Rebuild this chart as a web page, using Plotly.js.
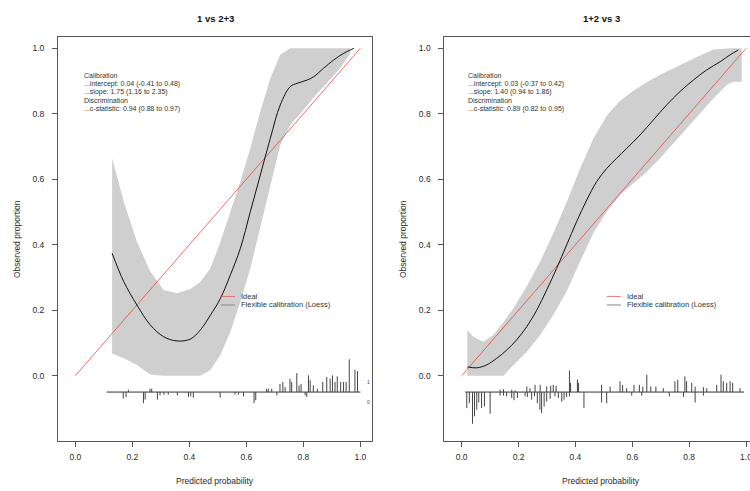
<!DOCTYPE html>
<html>
<head>
<meta charset="utf-8">
<script src="https://cdn.plot.ly/plotly-3.0.1.min.js"></script>
<style>html,body{margin:0;padding:0;background:#fff;}#chart{width:750px;height:491px;}</style>
</head>
<body>
<div id="chart"></div>
<script>
// ---------- DATA ----------
const panelTitles = ["1 vs 2+3", "1+2 vs 3"];
const xAxisTitle = "Predicted probability";
const yAxisTitle = "Observed proportion";
const tickVals = [0, 0.2, 0.4, 0.6, 0.8, 1.0];
const tickText = ["0.0", "0.2", "0.4", "0.6", "0.8", "1.0"];
const legendLabels = ["Ideal", "Flexible calibration (Loess)"];

const idealX = [0, 1];
const idealY = [0, 1];

// Left panel (1 vs 2+3)
const leftStats = ["Calibration", "...intercept: 0.04 (-0.41 to 0.48)", "...slope: 1.75 (1.16 to 2.35)", "Discrimination", "...c-statistic: 0.94 (0.88 to 0.97)"];
const leftCurveX = [0.129,0.17,0.216,0.263,0.31,0.357,0.404,0.439,0.474,0.509,0.544,0.579,0.614,0.649,0.684,0.719,0.754,0.778,0.813,0.836,0.871,0.906,0.942,0.965,0.977];
const leftCurveY = [0.374,0.287,0.216,0.155,0.119,0.106,0.112,0.14,0.185,0.236,0.308,0.389,0.501,0.613,0.725,0.827,0.883,0.893,0.903,0.913,0.939,0.964,0.985,0.995,1.0];
const leftBandX = [0.129,0.17,0.216,0.263,0.31,0.357,0.404,0.439,0.474,0.509,0.544,0.579,0.614,0.649,0.684,0.719,0.754,0.789,0.836,0.883,0.93,0.965];
const leftBandUpper = [0.664,0.532,0.409,0.318,0.262,0.252,0.265,0.287,0.328,0.409,0.501,0.593,0.695,0.807,0.908,0.98,1.0,1.0,1.0,1.0,1.0,1.0];
const leftBandLower = [0.068,0.053,0.033,0.004,0,0,0,0,0.017,0.063,0.134,0.226,0.328,0.45,0.582,0.705,0.766,0.80,0.85,0.895,0.94,0.985];
const leftRange = [0.11, 1.0];
const leftSpikeX1 = [0.186,0.262,0.268,0.671,0.677,0.689,0.718,0.728,0.736,0.753,0.759,0.777,0.785,0.792,0.818,0.824,0.835,0.849,0.868,0.882,0.894,0.902,0.911,0.919,0.931,0.941,0.95,0.961,0.981,0.99];
const leftSpikeH1 = [0.007,0.010,0.010,0.010,0.010,0.010,0.025,0.031,0.015,0.041,0.031,0.058,0.020,0.025,0.051,0.036,0.020,0.010,0.031,0.046,0.041,0.051,0.031,0.048,0.031,0.031,0.031,0.100,0.068,0.064];
const leftSpikeX0 = [0.168,0.178,0.239,0.245,0.288,0.297,0.311,0.326,0.358,0.397,0.405,0.414,0.508,0.56,0.572,0.59,0.627,0.633,0.707,0.806,0.812];
const leftSpikeH0 = [0.020,0.015,0.034,0.023,0.023,0.010,0.008,0.008,0.010,0.015,0.013,0.017,0.017,0.008,0.008,0.013,0.034,0.025,0.010,0.010,0.015];

// Right panel (1+2 vs 3)
const rightStats = ["Calibration", "...intercept: 0.03 (-0.37 to 0.42)", "...slope: 1.40 (0.94 to 1.86)", "Discrimination", "...c-statistic: 0.89 (0.82 to 0.95)"];
const rightCurveX = [0.02,0.053,0.088,0.123,0.158,0.193,0.229,0.264,0.299,0.334,0.369,0.404,0.44,0.475,0.51,0.545,0.58,0.627,0.674,0.721,0.768,0.815,0.862,0.909,0.944,0.973];
const rightCurveY = [0.027,0.024,0.033,0.053,0.078,0.109,0.15,0.2,0.262,0.328,0.399,0.47,0.537,0.593,0.633,0.664,0.694,0.735,0.781,0.827,0.868,0.903,0.934,0.959,0.98,0.995];
const rightBandX = [0.02,0.041,0.076,0.111,0.147,0.182,0.229,0.276,0.322,0.369,0.416,0.463,0.51,0.557,0.604,0.651,0.698,0.744,0.791,0.838,0.885,0.932,0.955,0.985];
const rightBandUpper = [0.14,0.119,0.104,0.124,0.163,0.206,0.273,0.349,0.434,0.53,0.632,0.724,0.794,0.84,0.87,0.896,0.919,0.939,0.959,0.978,0.996,1.0,1.0,1.0];
const rightBandLower = [0,0,0,0,0,0.033,0.073,0.124,0.185,0.257,0.348,0.435,0.501,0.552,0.588,0.623,0.664,0.71,0.756,0.801,0.847,0.888,0.898,0.898];
const rightRange = [0.012, 0.993];
const rightSpikeX1 = [0.135,0.147,0.176,0.188,0.229,0.24,0.258,0.276,0.299,0.313,0.322,0.332,0.379,0.383,0.407,0.411,0.492,0.522,0.557,0.566,0.58,0.606,0.625,0.637,0.651,0.665,0.683,0.709,0.75,0.76,0.785,0.791,0.809,0.821,0.85,0.862,0.897,0.912,0.92,0.932,0.944,0.953,0.979];
const rightSpikeH1 = [0.007,0.009,0.007,0.005,0.017,0.012,0.022,0.022,0.017,0.019,0.022,0.019,0.066,0.028,0.038,0.028,0.022,0.017,0.033,0.022,0.012,0.022,0.022,0.017,0.053,0.017,0.017,0.012,0.033,0.038,0.048,0.033,0.028,0.017,0.015,0.012,0.022,0.053,0.033,0.028,0.033,0.028,0.012];
const rightSpikeX0 = [0.018,0.027,0.038,0.045,0.053,0.06,0.07,0.08,0.1,0.135,0.147,0.158,0.176,0.184,0.196,0.223,0.231,0.246,0.256,0.266,0.275,0.281,0.29,0.299,0.311,0.328,0.34,0.352,0.36,0.369,0.379,0.43,0.492,0.51,0.598,0.633,0.73,0.78,0.821,0.85];
const rightSpikeH0 = [0.049,0.034,0.097,0.074,0.054,0.032,0.049,0.044,0.066,0.011,0.011,0.013,0.018,0.025,0.018,0.013,0.015,0.023,0.013,0.034,0.054,0.064,0.044,0.029,0.021,0.013,0.018,0.029,0.023,0.015,0.013,0.049,0.032,0.034,0.011,0.011,0.013,0.015,0.032,0.011];

const spikeBase = -0.05;
const groupLabels = ["1", "0"];

// ---------- BUILD ----------
const FONT = "Liberation Sans, Arial, Helvetica, sans-serif";
const TXT = "#2a2a2a";

function spikes(xs, hs, dir) {
  const X = [], Y = [];
  xs.forEach((x, i) => { X.push(x, x, null); Y.push(spikeBase, spikeBase + dir * hs[i], null); });
  return {X, Y};
}

function panel(sfx, curveX, curveY, bandX, up, lo, range, x1, h1, x0, h0) {
  const xa = sfx === "" ? "x" : "x" + sfx, ya = sfx === "" ? "y" : "y" + sfx;
  const polyX = bandX.concat(bandX.slice().reverse());
  const polyY = up.concat(lo.slice().reverse());
  const s1 = spikes(x1, h1, 1), s0 = spikes(x0, h0, -1);
  return [
    {type: "scatter", mode: "lines", x: polyX, y: polyY, fill: "toself", fillcolor: "#cfcfcf",
     line: {width: 0, color: "#cfcfcf"}, xaxis: xa, yaxis: ya, hoverinfo: "skip", showlegend: false},
    {type: "scatter", mode: "lines", x: idealX, y: idealY, line: {color: "rgba(235,60,60,0.75)", width: 1},
     xaxis: xa, yaxis: ya, showlegend: false, name: legendLabels[0]},
    {type: "scatter", mode: "lines", x: curveX, y: curveY, line: {color: "#111", width: 1, shape: "spline"},
     xaxis: xa, yaxis: ya, showlegend: false, name: legendLabels[1]},
    {type: "scatter", mode: "lines", x: range, y: [spikeBase, spikeBase], line: {color: "#333", width: 1},
     xaxis: xa, yaxis: ya, showlegend: false, hoverinfo: "skip"},
    {type: "scatter", mode: "lines", x: s1.X, y: s1.Y, line: {color: "#444", width: 1},
     xaxis: xa, yaxis: ya, showlegend: false, hoverinfo: "skip", connectgaps: false},
    {type: "scatter", mode: "lines", x: s0.X, y: s0.Y, line: {color: "#444", width: 1},
     xaxis: xa, yaxis: ya, showlegend: false, hoverinfo: "skip", connectgaps: false}
  ];
}

const data = [].concat(
  panel("", leftCurveX, leftCurveY, leftBandX, leftBandUpper, leftBandLower, leftRange, leftSpikeX1, leftSpikeH1, leftSpikeX0, leftSpikeH0),
  panel("2", rightCurveX, rightCurveY, rightBandX, rightBandUpper, rightBandLower, rightRange, rightSpikeX1, rightSpikeH1, rightSpikeX0, rightSpikeH0)
);

const W = 750, H = 491;
const yTop = 37, yBot = 441;
const yRange = [-0.1995, 1.0345];

function xaxis(domain, range) {
  return {domain, range, showgrid: false, zeroline: false, showline: true, mirror: true,
    linecolor: "#555", linewidth: 1, ticks: "outside", ticklen: 5, tickwidth: 1, tickcolor: "#555",
    tickvals: tickVals, ticktext: tickText, tickfont: {size: 8.5, color: TXT, family: FONT}, ticklabelstandoff: 3,
    ticklabeloverflow: "allow", fixedrange: true};
}
function yaxis(anchor, mirror) {
  return {domain: [1 - yBot / H, 1 - yTop / H], range: yRange, anchor, showgrid: false, zeroline: false,
    showline: true, mirror, linecolor: "#555", linewidth: 1, ticks: "outside", ticklen: 5, tickwidth: 1,
    tickcolor: "#555", tickvals: tickVals, ticktext: tickText, tickfont: {size: 8.5, color: TXT, family: FONT},
    ticklabelstandoff: 6, ticklabeloverflow: "allow", fixedrange: true};
}

const annotations = [];
const shapes = [];
function panelText(xref, yref, stats, sx, legX, panelCenterPx, yTitlePx, showGroup, title) {
  const lineY = [0.918, 0.892, 0.866, 0.840, 0.814];
  stats.forEach((t, i) => annotations.push({xref, yref, x: sx, y: lineY[i], text: t, showarrow: false,
    xanchor: "left", yanchor: "middle", font: {size: 7, color: "#333", family: FONT}}));
  // legend
  const legY = [0.242, 0.216];
  const legCol = ["rgba(235,70,70,0.7)", "#888"];
  legendLabels.forEach((t, i) => {
    shapes.push({type: "line", xref, yref, x0: legX, x1: legX + 0.05, y0: legY[i], y1: legY[i], line: {color: legCol[i], width: 1}});
    annotations.push({xref, yref, x: legX + 0.065, y: legY[i], text: t, showarrow: false, xanchor: "left", yanchor: "middle",
      font: {size: 7.5, color: "#333", family: FONT}});
  });
  annotations.push({xref: "paper", yref: "paper", x: panelCenterPx / W, y: 1 - 18 / H, text: "<b>" + title + "</b>", showarrow: false,
    font: {size: 9.5, color: "#111", family: FONT}, xanchor: "center", yanchor: "middle"});
  annotations.push({xref: "paper", yref: "paper", x: panelCenterPx / W, y: 1 - 481 / H, text: xAxisTitle, showarrow: false,
    font: {size: 8.5, color: TXT, family: FONT}, xanchor: "center", yanchor: "middle"});
  annotations.push({xref: "paper", yref: "paper", x: yTitlePx / W, y: 1 - 239 / H, text: yAxisTitle, textangle: -90, showarrow: false,
    font: {size: 8.5, color: TXT, family: FONT}, xanchor: "center", yanchor: "middle"});
  if (showGroup) {
    annotations.push({xref, yref, x: 1.03, y: spikeBase + 0.03, text: groupLabels[0], showarrow: false, font: {size: 5, color: "#444", family: FONT}});
    annotations.push({xref, yref, x: 1.03, y: spikeBase - 0.03, text: groupLabels[1], showarrow: false, font: {size: 5, color: "#444", family: FONT}});
  }
}
panelText("x", "y", leftStats, 0.024, 0.51, 215, 17, true, panelTitles[0]);
panelText("x2", "y2", rightStats, 0.015, 0.51, 601, 403, false, panelTitles[1]);

const layout = {
  width: W, height: H, margin: {l: 0, r: 0, t: 0, b: 0}, paper_bgcolor: "#fff", plot_bgcolor: "#fff",
  showlegend: false, font: {family: FONT, color: TXT},
  xaxis: Object.assign(xaxis([58 / W, 372 / W], [-0.0608, 1.0408]), {anchor: "y"}),
  yaxis: yaxis("x", true),
  xaxis2: Object.assign(xaxis([444.4 / W, 1], [-0.0608, 1.014]), {anchor: "y2"}),
  yaxis2: yaxis("x2", false),
  annotations, shapes
};

Plotly.newPlot("chart", data, layout, {staticPlot: true, displayModeBar: false});
</script>
</body>
</html>
